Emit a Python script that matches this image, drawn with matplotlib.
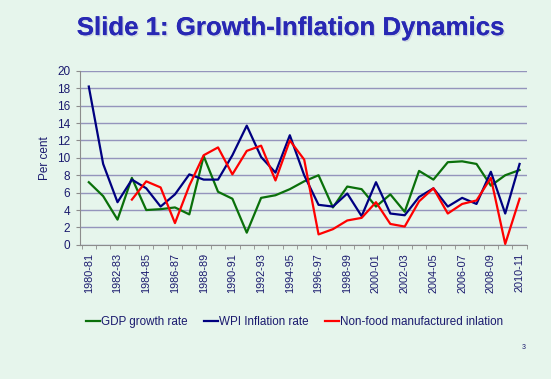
import matplotlib
matplotlib.use("Agg")
import matplotlib.pyplot as plt
import matplotlib.patheffects as pe
import numpy as np

years = [f"{y}-{str(y + 1)[-2:]}" for y in range(1980, 2011)]

gdp_growth = [7.2, 5.6, 2.9, 7.7, 4.0, 4.1, 4.3, 3.5, 10.2, 6.1,
              5.3, 1.4, 5.4, 5.7, 6.4, 7.3, 8.0, 4.3, 6.7, 6.4,
              4.4, 5.8, 3.8, 8.5, 7.5, 9.5, 9.6, 9.3, 6.8, 8.0, 8.6]
wpi_inflation = [18.2, 9.3, 4.9, 7.5, 6.5, 4.4, 5.8, 8.1, 7.5, 7.5,
                 10.3, 13.7, 10.1, 8.3, 12.6, 8.0, 4.6, 4.4, 5.9, 3.3,
                 7.2, 3.6, 3.4, 5.5, 6.5, 4.4, 5.4, 4.7, 8.4, 3.6, 9.3]
nonfood_mfg = [None, None, None, 5.2, 7.3, 6.6, 2.5, 6.8, 10.3, 11.2,
               8.1, 10.8, 11.4, 7.4, 12.0, 9.8, 1.2, 1.8, 2.8, 3.1,
               4.9, 2.4, 2.1, 5.0, 6.5, 3.6, 4.7, 5.1, 7.7, 0.1, 5.3]

bg = "#e6f5ec"
txt_blue = "#1a1a6e"

fig = plt.figure(figsize=(5.51, 3.79), dpi=100, facecolor=bg)
ax = fig.add_axes([0.145, 0.354, 0.811, 0.459], facecolor=bg)

x = np.arange(len(years))
nf = np.array([np.nan if v is None else v for v in nonfood_mfg])
ax.plot(x, gdp_growth, color="#0a700a", lw=1.6, label="GDP growth rate")
ax.plot(x, wpi_inflation, color="#000080", lw=1.6, label="WPI Inflation rate")
ax.plot(x, nf, color="#ff0000", lw=1.6, label="Non-food manufactured inlation")

ax.set_ylim(0, 20)
ax.set_yticks(range(0, 21, 2))
ax.set_xlim(-0.62, 30.5)
ax.grid(axis="y", color="#9494bc", lw=1.0)
ax.set_axisbelow(True)

ax.set_xticks(x[::2])
ax.set_xticklabels(years[::2], rotation=90, fontsize=7.8, color=txt_blue,
                   family="Liberation Sans")
ax.set_xticks(np.arange(-0.5, 30.6, 1), minor=True)
ax.tick_params(axis="x", which="major", length=0, pad=6)
ax.tick_params(axis="x", which="minor", length=3, color="#8c8c8c", direction="out")
ax.tick_params(axis="y", length=3, color="#8c8c8c", labelsize=8.5, labelcolor=txt_blue, pad=4)
for lbl in ax.get_yticklabels():
    lbl.set_family("Liberation Sans")

for s in ["top", "right"]:
    ax.spines[s].set_visible(False)
ax.spines["left"].set_color("#8c8c8c")
ax.spines["bottom"].set_color("#8c8c8c")

ax.set_ylabel("Per cent", fontsize=8.5, color=txt_blue, family="Liberation Sans", labelpad=4)

leg = fig.legend(loc="center", bbox_to_anchor=(0.535, 0.15), ncol=3, frameon=False,
                 handlelength=1.2, handletextpad=0.1, columnspacing=1.4,
                 prop={"family": "Liberation Sans", "size": 8.4})
for t in leg.get_texts():
    t.set_color(txt_blue)

fig.text(0.528, 0.926, "Slide 1: Growth-Inflation Dynamics", ha="center", va="center",
         fontsize=18.6, fontweight="bold", color="#2828b4", family="Liberation Sans",
         path_effects=[pe.withSimplePatchShadow(offset=(1, -1), shadow_rgbFace="#a8a8d0", alpha=0.4),
                       pe.Normal()])
fig.text(0.95, 0.08, "3", fontsize=5, color=txt_blue, ha="center", family="Liberation Sans")

fig.savefig("out.png", dpi=100, facecolor=bg)
